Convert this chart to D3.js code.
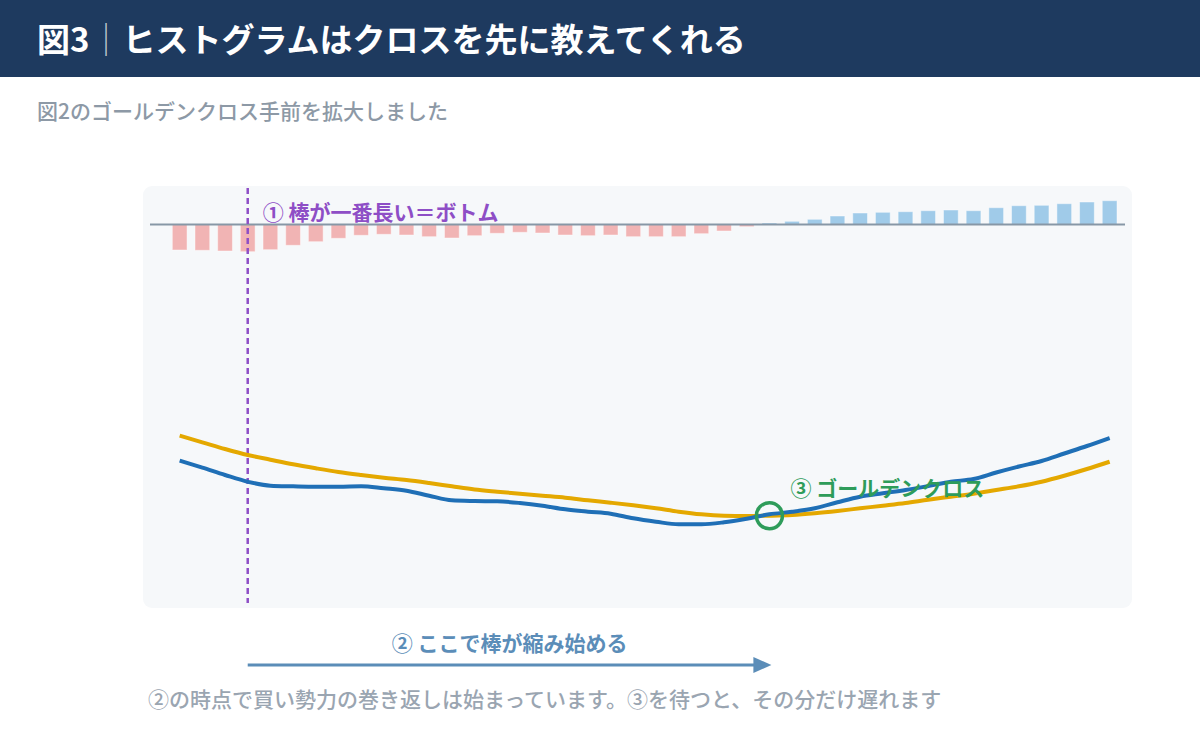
<!DOCTYPE html>
<html lang="ja">
<head>
<meta charset="utf-8">
<script src="https://cdn.jsdelivr.net/npm/d3@7/dist/d3.min.js"></script>
<style>
  html, body { margin: 0; padding: 0; background: #ffffff; }
  svg { display: block; font-family: "Noto Sans CJK JP", "Noto Sans", sans-serif; }
</style>
</head>
<body>
<svg id="chart" width="1200" height="750"></svg>
<script>
// ---- data ----
const periods = ["1","2","3","4","5","6","7","8","9","10","11","12","13","14","15","16","17","18","19","20","21",
                 "22","23","24","25","26","27","28","29","30","31","32","33","34","35","36","37","38","39","40","41","42"];

const histogram = [-2.55,-2.58,-2.65,-2.72,-2.52,-2.08,-1.72,-1.38,-1.08,-0.98,-1.05,-1.22,-1.35,-1.12,
                   -0.88,-0.78,-0.85,-1.05,-1.12,-1.05,-1.22,-1.22,-1.22,-0.92,-0.65,-0.22,
                   0.15,0.32,0.52,0.85,1.15,1.22,1.28,1.38,1.45,1.38,1.68,1.88,1.92,2.08,2.25,2.38];

const macd = [-4.07,-4.77,-5.50,-6.17,-6.57,-6.63,-6.67,-6.67,-6.63,-6.83,-7.07,-7.57,-8.03,-8.10,
              -8.13,-8.30,-8.57,-8.93,-9.17,-9.37,-9.83,-10.17,-10.43,-10.43,-10.23,-9.87,-9.43,-9.18,
              -8.83,-8.23,-7.67,-7.33,-7.00,-6.60,-6.17,-5.90,-5.25,-4.65,-4.10,-3.35,-2.60,-1.80];

const signal = [-1.57,-2.23,-2.90,-3.50,-3.97,-4.43,-4.83,-5.20,-5.50,-5.77,-6.00,-6.30,-6.63,-6.95,
                -7.17,-7.37,-7.57,-7.77,-8.03,-8.27,-8.53,-8.83,-9.17,-9.43,-9.57,-9.60,-9.57,-9.50,
                -9.33,-9.10,-8.83,-8.57,-8.30,-7.97,-7.67,-7.37,-7.00,-6.63,-6.17,-5.57,-4.90,-4.17];

const bottomIndex = 3;   // ① longest bar
const crossIndex = 26;   // ③ golden cross

const titleMain = "図3";
const titleSep = "｜";
const titleRest = "ヒストグラムはクロスを先に教えてくれる";
const subtitle = "図2のゴールデンクロス手前を拡大しました";
const label1 = "① 棒が一番長い＝ボトム";
const label2 = "② ここで棒が縮み始める";
const label3 = "③ ゴールデンクロス";
const footnote = "②の時点で買い勢力の巻き返しは始まっています。③を待つと、その分だけ遅れます";

// ---- drawing ----
const svg = d3.select("#chart");

// header band
svg.append("rect").attr("x", 0).attr("y", 0).attr("width", 1200).attr("height", 77).attr("fill", "#1e3a5f");
const t = svg.append("text").attr("x", 37).attr("y", 52)
  .attr("font-size", 33).attr("font-weight", 700).attr("fill", "#ffffff");
t.append("tspan").text(titleMain);
t.append("tspan").text(titleSep).attr("font-weight", 300).attr("fill-opacity", 0.75);
t.append("tspan").text(titleRest);

svg.append("text").attr("x", 37).attr("y", 119)
  .attr("font-size", 21).attr("font-weight", 500).attr("fill", "#8d99a6").text(subtitle);

// panel
svg.append("rect").attr("x", 143).attr("y", 186).attr("width", 989).attr("height", 422)
  .attr("rx", 9).attr("fill", "#f6f8fa");

// scales
const x = d3.scaleBand().domain(periods).range([172.3, 1117]).paddingInner(0.35).paddingOuter(0);
const xc = i => x(periods[i]) + x.bandwidth() / 2;
const yH = d3.scaleLinear().domain([-3, 3]).range([254.5, 194.5]);
const yL = d3.scaleLinear().domain([-11, 0]).range([530, 420]);

// histogram bars
svg.append("g").selectAll("rect").data(histogram).join("rect")
  .attr("x", (d, i) => x(periods[i]))
  .attr("width", x.bandwidth())
  .attr("y", d => d >= 0 ? yH(d) : yH(0))
  .attr("height", d => Math.abs(yH(d) - yH(0)))
  .attr("fill", d => d >= 0 ? "#a0cbe9" : "#f1b4b4")
  .attr("stroke", "#ffffff").attr("stroke-opacity", 0.45).attr("stroke-width", 1);

// zero line
svg.append("line").attr("x1", 150).attr("x2", 1125).attr("y1", yH(0)).attr("y2", yH(0))
  .attr("stroke", "#8797a6").attr("stroke-width", 2);

// dashed bottom marker
svg.append("line").attr("x1", xc(bottomIndex)).attr("x2", xc(bottomIndex))
  .attr("y1", 188).attr("y2", 603)
  .attr("stroke", "#8e4ec6").attr("stroke-width", 2.5).attr("stroke-dasharray", "6,4");

svg.append("text").attr("x", xc(bottomIndex) + 15).attr("y", 220)
  .attr("font-size", 21).attr("font-weight", 700).attr("fill", "#8e4ec6").text(label1);

// lines
const lineGen = arr => d3.line().x((d, i) => xc(i)).y(d => yL(d)).curve(d3.curveMonotoneX)(arr);
svg.append("path").attr("d", lineGen(signal)).attr("fill", "none")
  .attr("stroke", "#e4a800").attr("stroke-width", 4).attr("stroke-linejoin", "round");
svg.append("path").attr("d", lineGen(macd)).attr("fill", "none")
  .attr("stroke", "#1f6fb6").attr("stroke-width", 4).attr("stroke-linejoin", "round");

// golden cross marker
svg.append("circle").attr("cx", xc(crossIndex)).attr("cy", yL(signal[crossIndex]))
  .attr("r", 13).attr("fill", "none").attr("stroke", "#2e9c5a").attr("stroke-width", 3.5);
svg.append("text").attr("x", xc(crossIndex) + 21).attr("y", 496)
  .attr("font-size", 21).attr("font-weight", 700).attr("fill", "#2e9c5a").text(label3);

// arrow
const ax1 = xc(bottomIndex), ax2 = xc(crossIndex) + 2, ay = 665;
svg.append("line").attr("x1", ax1).attr("x2", ax2 - 16).attr("y1", ay).attr("y2", ay)
  .attr("stroke", "#5b8db8").attr("stroke-width", 3);
svg.append("path").attr("d", `M${ax2 - 18},${ay - 8} L${ax2},${ay} L${ax2 - 18},${ay + 8} Z`)
  .attr("fill", "#5b8db8");
svg.append("text").attr("x", (ax1 + ax2) / 2).attr("y", 651).attr("text-anchor", "middle")
  .attr("font-size", 21).attr("font-weight", 700).attr("fill", "#5b8db8").text(label2);

// footnote
svg.append("text").attr("x", 148).attr("y", 707)
  .attr("font-size", 21).attr("font-weight", 500).attr("fill", "#9aa5b1").text(footnote);
</script>
</body>
</html>
